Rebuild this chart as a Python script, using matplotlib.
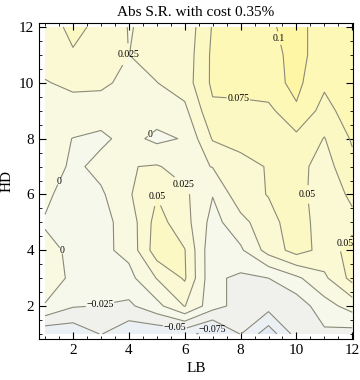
import numpy as np
import matplotlib.pyplot as plt

plt.rcParams['font.family'] = ['Liberation Serif', 'DejaVu Serif']

lb = np.arange(1, 13)
hd = np.arange(1, 13)

# Abs S.R., one list per HD row (LB = 1 .. 12)
hd01 = [-0.070, -0.068, -0.049, -0.068, -0.070, -0.068, -0.085, -0.049, -0.090, -0.040, -0.030, -0.035]
hd02 = [-0.001, -0.023, -0.026, -0.030, -0.008, 0.026, -0.015, -0.035, -0.040, -0.040, -0.010, 0.010]
hd03 = [0.008, -0.003, -0.005, -0.008, 0.026, 0.053, -0.020, -0.030, -0.025, -0.005, 0.020, 0.058]
hd04 = [0.006, -0.004, -0.006, 0.007, 0.064, 0.051, -0.020, -0.004, 0.035, 0.060, 0.042, 0.056]
hd05 = [-0.002, -0.015, -0.008, 0.010, 0.060, 0.035, -0.009, 0.0165, 0.042, 0.062, 0.038, 0.045]
hd06 = [0.005, -0.012, -0.004, 0.022, 0.049, 0.030, 0.001, 0.041, 0.051, 0.058, 0.038, 0.054]
hd07 = [0.018, -0.006, 0.008, 0.024, 0.027, 0.015, 0.026, 0.040, 0.052, 0.058, 0.040, 0.068]
hd08 = [0.010, -0.0005, -0.005, 0.008, -0.006, 0.002, 0.052, 0.060, 0.062, 0.068, 0.049, 0.078]
hd09 = [0.015, 0.015, 0.012, 0.012, 0.012, 0.019, 0.070, 0.065, 0.068, 0.097, 0.065, 0.090]
hd10 = [0.0235, 0.030, 0.030, 0.018, 0.0245, 0.037, 0.080, 0.088, 0.091, 0.106, 0.080, 0.085]
hd11 = [0.035, 0.047, 0.040, 0.0248, 0.035, 0.035, 0.080, 0.090, 0.089, 0.110, 0.085, 0.085]
hd12 = [0.035, 0.058, 0.042, 0.024, 0.030, 0.032, 0.077, 0.090, 0.095, 0.112, 0.082, 0.085]

z = np.array([hd01, hd02, hd03, hd04, hd05, hd06, hd07, hd08, hd09, hd10, hd11, hd12])

levels = [-0.1, -0.075, -0.05, -0.025, 0, 0.025, 0.05, 0.075, 0.1, 0.125]
shades = ['#e3eaf4', '#ebf0f4', '#f0f1ec', '#f6f8ec', '#f9f9e2',
          '#faf9d3', '#fcf8c4', '#fdf8b6', '#fef6a4']

# label spots (LB, HD)
label_pos = [(9.35, 11.6), (4.0, 11.0), (7.9, 9.2), (4.7, 8.25), (1.43, 6.5),
             (5.95, 6.35), (5.0, 5.95), (10.3, 6.0), (11.57, 4.37), (1.6, 4.0),
             (2.97, 2.04), (5.66, 1.32), (6.99, 1.25)]

fig = plt.figure(figsize=(3.6, 3.8), dpi=100)
ax = fig.add_axes([0.108, 0.108, 0.873, 0.831])

ax.contourf(lb, hd, z, levels=levels, colors=shades)
cs = ax.contour(lb, hd, z, levels=levels, colors='#8a8a7a', linewidths=0.8,
                linestyles='solid')

def fmt(v):
    return ('%g' % v).replace('-', '\u2212')

txt = ax.clabel(cs, fontsize=7, fmt=fmt, manual=label_pos, inline=True,
                inline_spacing=1, colors='k')
for t in txt:
    t.set_rotation(0)

ax.set_xlim(0.78, 12.03)
ax.set_ylim(0.82, 12.14)
ax.set_xticks([2, 4, 6, 8, 10, 12])
ax.set_yticks([2, 4, 6, 8, 10, 12])
ax.set_xticks(np.arange(1, 12.1, 0.5), minor=True)
ax.set_yticks(np.arange(1, 12.1, 0.5), minor=True)
ax.tick_params(which='both', direction='in', top=True, right=True, labelsize=11)
ax.tick_params(which='major', length=5)
ax.tick_params(which='minor', length=2.5)
ax.set_xlabel('LB', fontsize=11)
ax.set_ylabel('HD', fontsize=11)
ax.set_title('Abs S.R. with cost 0.35%', fontsize=11, pad=5)

plt.savefig('out.png', dpi=100)
